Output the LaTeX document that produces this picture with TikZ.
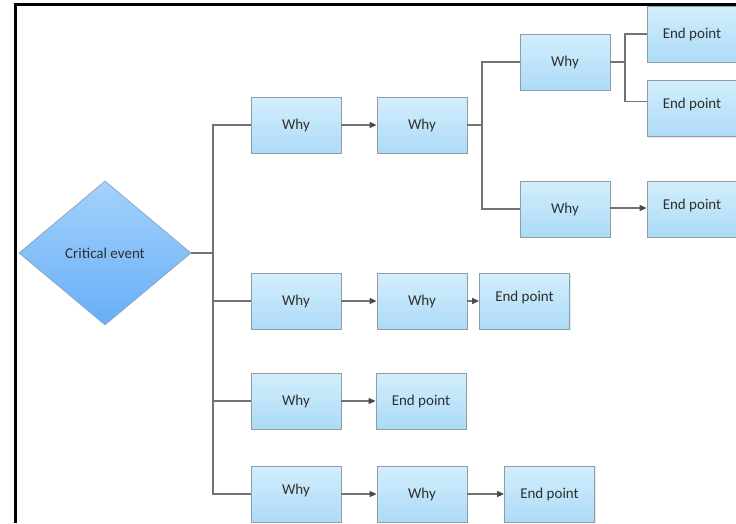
\documentclass[tikz,border=0pt]{standalone}
\usepackage{fontspec}
\setmainfont{Carlito}
\usetikzlibrary{shapes.geometric,arrows.meta,shadows}
\definecolor{boxtop}{HTML}{D3EEFC}
\definecolor{boxbot}{HTML}{ACDBF7}
\definecolor{boxline}{HTML}{8F9DA7}
\definecolor{dmtop}{HTML}{A4D2FB}
\definecolor{dmbot}{HTML}{66AEF7}
\definecolor{dmline}{HTML}{8AA8C4}
\definecolor{wire}{HTML}{737373}
\definecolor{tip}{HTML}{4A4A4A}
\definecolor{ink}{HTML}{2F2F2F}
\newcommand{\uptext}[1]{\raisebox{10pt}{#1}}
\tikzset{
  stepbox/.style={rectangle, draw=boxline, line width=0.8pt,
    top color=boxtop, bottom color=boxbot,
    minimum width=90pt, minimum height=56pt, inner sep=0pt,
    text=ink, font=\fontsize{15}{17}\selectfont,
    drop shadow={shadow xshift=1pt, shadow yshift=-1.2pt, opacity=0.18}},
  eventbox/.style={diamond, draw=dmline, line width=0.8pt,
    top color=dmtop, bottom color=dmbot,
    minimum width=172pt, minimum height=144pt, inner sep=0pt,
    text=ink, font=\fontsize{15}{17}\selectfont},
  wireline/.style={draw=wire, line width=1.4pt},
  arrowline/.style={wireline, -{Triangle[length=7pt,width=6pt,fill=tip,color=tip]}}
}
\begin{document}
\begin{tikzpicture}[x=1pt,y=-1pt]
\clip (0,0) rectangle (736,523);
\fill[white] (0,0) rectangle (736,523);

% trunk and branch columns
\coordinate (trunk) at (213,0);
\coordinate (fork) at (482,0);
\coordinate (split) at (625,0);

% root
\node[eventbox] (ce) at (105,253) {Critical event};

% first chain
\node[stepbox] (w1a) at (296,125) {Why};
\node[stepbox] (w1b) at (422,125) {Why};
\node[stepbox] (w1c) at (565,62) {Why};
\node[stepbox] (w1d) at (565,209) {Why};
\node[stepbox] (e1) at (692,34) {End point};
\node[stepbox] (e2) at (692,108.5) {\uptext{End point}};
\node[stepbox] (e3) at (692,209) {\uptext{End point}};

% second chain
\node[stepbox] (w2a) at (296,301) {Why};
\node[stepbox] (w2b) at (422,301) {Why};
\node[stepbox] (e4) at (524.5,301) {\uptext{End point}};

% third chain
\node[stepbox] (w3a) at (296,401) {Why};
\node[stepbox] (e5) at (421,401) {End point};

% fourth chain
\node[stepbox] (w4a) at (296,494) {\uptext{Why}};
\node[stepbox] (w4b) at (422,494) {Why};
\node[stepbox] (e6) at (549.5,494) {End point};

% trunk connectors
\draw[wireline] (ce.east) -- (ce.east -| trunk);
\draw[wireline] (w1a.west) -- (w1a.west -| trunk) -- (w4a.west -| trunk) -- (w4a.west);
\draw[wireline] (w2a.west -| trunk) -- (w2a.west);
\draw[wireline] (w3a.west -| trunk) -- (w3a.west);

% first chain connectors
\draw[arrowline] (w1a.east) -- (w1b.west);
\draw[wireline] (w1b.east) -- (w1b.east -| fork);
\draw[wireline] (w1c.west) -- (w1c.west -| fork) -- (w1d.west -| fork) -- (w1d.west);
\draw[wireline] (w1c.east) -- (w1c.east -| split);
\draw[wireline] (e1.west) -- (e1.west -| split) -- ([yshift=7pt]e2.west -| split) -- ([yshift=7pt]e2.west);
\draw[arrowline] ([yshift=1pt]w1d.east) -- ([yshift=1pt]e3.west);

% second chain connectors
\draw[arrowline] (w2a.east) -- (w2b.west);
\draw[arrowline] (w2b.east) -- (e4.west);

% third chain connectors
\draw[arrowline] (w3a.east) -- (e5.west);

% fourth chain connectors
\draw[arrowline] (w4a.east) -- (w4b.west);
\draw[arrowline] (w4b.east) -- (e6.west);

% frame
\draw[black, line width=3pt] (15.5,523) -- (15.5,4.5) -- (736,4.5);
\end{tikzpicture}
\end{document}
